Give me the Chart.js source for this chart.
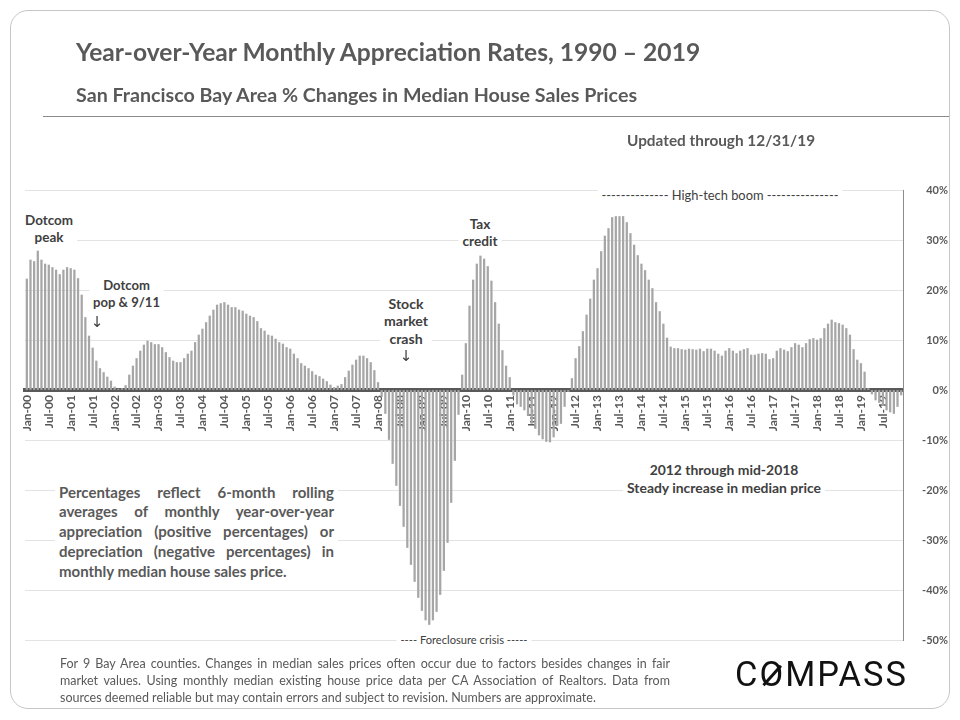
<!DOCTYPE html>
<html>
<head>
<meta charset="utf-8">
<script src="https://cdn.jsdelivr.net/npm/chart.js"></script>
<style>
html, body { margin: 0; padding: 0; background: #fff; }
#page { position: relative; width: 960px; height: 720px; overflow: hidden; font-family: Lato, "Open Sans", sans-serif; color: #595959; }
#frame { position: absolute; left: 10px; top: 10px; width: 938px; height: 697px; border: 1px solid #c6c6c6; border-radius: 18px; }
#chart { position: absolute; left: 0; top: 0; }
#rule { position: absolute; left: 43px; top: 116px; width: 906px; height: 0; border-top: 1.5px solid #8a8a8a; }
.t { position: absolute; white-space: nowrap; line-height: 1.2; }
.c { transform: translate(-50%, -50%); text-align: center; }
.l { transform: translate(0, -50%); }
.box { background: #fff; padding: 1px 4px; }
.b { font-weight: bold; }
.note { color: #404040; font-weight: bold; font-size: 14px; }
.arrow { font-family: "DejaVu Sans", sans-serif; font-size: 15px; color: #404040; }
.just div { text-align: justify; text-align-last: justify; }
.just div.last { text-align-last: left; }
#logo { font-family: Roboto, sans-serif; color: #111; font-size: 34px; letter-spacing: 2px; }
#logo .o { position: relative; display: inline-block; }
#logo .o::after { content: ""; position: absolute; left: 50%; top: 50%; width: 2.5px; height: 26px; background: #111; transform: translate(-50%, -50%) rotate(42deg); }
</style>
</head>
<body>
<div id="page">
  <canvas id="chart" width="960" height="720"></canvas>
  <div id="frame"></div>

  <div class="t l b" data-w="624" style="left:76px; top:52px; font-size:24px;"><span>Year-over-Year Monthly Appreciation Rates, 1990 – 2019</span></div>
  <div class="t l b" data-w="561" style="left:76px; top:95px; font-size:18px;"><span>San Francisco Bay Area % Changes in Median House Sales Prices</span></div>
  <div id="rule"></div>
  <div class="t l b" data-w="188" style="left:627px; top:140px; font-size:14px;"><span>Updated through 12/31/19</span></div>

  <div class="t c note box" data-w="48" style="left:49px; top:228.5px; line-height:17px;"><span>Dotcom<br>peak</span></div>
  <div class="t c note box" data-w="67" style="left:126.5px; top:293.5px; line-height:17px;"><span>Dotcom<br>pop &amp; 9/11</span></div>
  <div class="t c arrow" style="left:97px; top:322px;">↓</div>
  <div class="t c note box" data-w="44" style="left:406px; top:320.5px; line-height:17.5px;"><span>Stock<br>market<br>crash</span></div>
  <div class="t c arrow" style="left:406px; top:356px;">↓</div>
  <div class="t c note box" data-w="35" style="left:480px; top:232.5px; line-height:17px;"><span>Tax<br>credit</span></div>
  <div class="t c box" data-w="237" style="left:720px; top:196px; font-size:13px; color:#404040;"><span>-------------- High-tech boom ---------------</span></div>
  <div class="t c note box" data-w="194" style="left:724px; top:479px; line-height:18px; font-weight:bold; color:#404040;"><span>2012 through mid-2018<br>Steady increase in median price</span></div>
  <div class="t c box" data-w="127" style="left:464px; top:640px; font-size:13px; color:#404040;"><span>---- Foreclosure crisis -----</span></div>

  <div class="t l box just b" style="left:55px; top:531.5px; width:275px; font-size:15px; line-height:19.8px; white-space:normal;">
    <div>Percentages reflect 6-month rolling</div>
    <div>averages of monthly year-over-year</div>
    <div>appreciation (positive percentages) or</div>
    <div>depreciation (negative percentages) in</div>
    <div class="last">monthly median house sales price.</div>
  </div>

  <div class="t l just" style="left:60px; top:680px; width:610px; font-size:12.5px; line-height:17px; white-space:normal;">
    <div>For 9 Bay Area counties. Changes in median sales prices often occur due to factors besides changes in fair</div>
    <div>market values. Using monthly median existing house price data per CA Association of Realtors. Data from</div>
    <div class="last">sources deemed reliable but may contain errors and subject to revision. Numbers are approximate.</div>
  </div>

  <div id="logo" class="t l" data-w="173" style="left:735px; top:675px;"><span>C<span class="o">O</span>MPASS</span></div>
</div>

<script>
// Monthly year-over-year appreciation (%), 6-month rolling, Jan 2000 - Dec 2019
const appreciation = [
    22.2, 26.0, 25.7, 27.8, 26.0, 25.2, 25.0, 24.5, 24.0, 23.1, 24.0, 24.5,          // 2000
    24.3, 24.0, 22.3, 19.0, 14.5, 10.8, 8.4, 5.8, 4.3, 3.5, 2.6, 1.8,                // 2001
    0.6, 0.2, 0.3, 0.9, 3.0, 4.8, 6.3, 7.8, 9.0, 9.8, 9.5, 9.1,                      // 2002
    9.1, 8.5, 7.5, 6.5, 5.8, 5.5, 5.5, 6.3, 7.2, 7.8, 9.5, 11.0,                     // 2003
    12.2, 13.5, 14.8, 16.0, 17.0, 17.3, 17.5, 17.0, 16.5, 16.5, 16.0, 15.8,          // 2004
    15.2, 14.8, 14.5, 13.7, 12.3, 11.8, 11.0, 10.8, 10.2, 9.5, 9.2, 8.5,             // 2005
    8.2, 7.2, 6.3, 5.3, 4.8, 4.3, 3.7, 3.0, 2.7, 2.2, 1.7, 1.0,                      // 2006
    0.5, 0.8, 1.1, 2.5, 3.8, 5.0, 6.0, 6.8, 6.8, 6.3, 5.5, 3.9,                      // 2007
    1.5, -1.3, -4.7, -9.9, -14.7, -19.1, -23.1, -27.3, -31.5, -34.9, -38.3, -41.5,   // 2008
    -44.1, -46.0, -46.9, -46.0, -44.3, -40.9, -36.1, -30.5, -22.5, -14.1, -4.9, 3.0, // 2009
    9.3, 16.8, 22.0, 25.2, 26.8, 26.2, 24.7, 21.8, 17.5, 13.2, 7.9, 4.8,             // 2010
    2.5, -1.0, -2.8, -3.3, -4.0, -5.1, -6.7, -7.7, -9.0, -9.8, -10.3, -10.4,         // 2011
    -9.4, -7.1, -6.7, -3.3, -0.3, 2.3, 6.3, 8.7, 11.7, 15.0, 18.2, 22.0,             // 2012
    24.3, 27.7, 30.8, 32.3, 34.5, 34.7, 34.7, 34.7, 33.5, 31.3, 29.0, 26.9,          // 2013
    25.2, 23.9, 22.0, 20.3, 17.5, 15.7, 13.2, 10.4, 8.6, 8.3, 8.3, 8.1,              // 2014
    8.0, 8.2, 8.1, 8.0, 8.2, 7.7, 8.2, 8.2, 7.8, 7.2, 6.8, 7.8,                      // 2015
    8.3, 7.8, 7.3, 7.8, 8.1, 8.3, 7.0, 7.0, 7.2, 7.3, 7.2, 6.1,                      // 2016
    6.3, 7.8, 8.3, 8.0, 7.7, 8.5, 9.3, 9.0, 8.5, 9.3, 10.1, 10.3,                    // 2017
    10.0, 10.3, 12.3, 13.2, 14.0, 13.5, 13.3, 13.0, 12.3, 11.0, 8.1, 6.0,            // 2018
    5.3, 3.6, 0.3, -0.8, -2.0, -2.5, -3.1, -4.0, -4.4, -4.7, -3.3, -1.0              // 2019
];

const years = ['00', '01', '02', '03', '04', '05', '06', '07', '08', '09',
               '10', '11', '12', '13', '14', '15', '16', '17', '18', '19'];
const monthNames = ['Jan', 'Feb', 'Mar', 'Apr', 'May', 'Jun', 'Jul', 'Aug', 'Sep', 'Oct', 'Nov', 'Dec'];
const yTicks = [40, 30, 20, 10, 0, -10, -20, -30, -40, -50];

const monthLabels = [];
years.forEach(function(y) {
    monthNames.forEach(function(m) {
        monthLabels.push(m + '-' + y);
    });
});

// scale single-line / block texts so they span the same width as the original
function fitTexts() {
    document.querySelectorAll('[data-w]').forEach(function(el) {
        const span = el.firstElementChild;
        const w = span.getBoundingClientRect().width;
        const fs = parseFloat(getComputedStyle(el).fontSize);
        if (w > 0) {
            el.style.fontSize = (fs * parseFloat(el.dataset.w) / w) + 'px';
        }
    });
}

const tickFont = { family: 'Lato', weight: 'bold', size: 11 };

function drawChart() {
    const ctx = document.getElementById('chart');
    new Chart(ctx, {
        type: 'bar',
        data: {
            labels: monthLabels,
            datasets: [{
                data: appreciation,
                backgroundColor: '#a6a6a6',
                barThickness: 1.6
            }]
        },
        options: {
            responsive: false,
            animation: false,
            layout: {
                padding: { left: 25, right: 12, top: 190, bottom: 80 }
            },
            plugins: {
                legend: { display: false },
                tooltip: { enabled: false }
            },
            scales: {
                x: {
                    position: { y: 0 },
                    z: 1,
                    grid: { display: false, drawTicks: false },
                    border: { color: '#595959', width: 4 },
                    ticks: {
                        autoSkip: false,
                        maxRotation: 90,
                        minRotation: 90,
                        padding: 5,
                        color: '#595959',
                        font: { family: 'Lato', weight: 'bold', size: 12 },
                        callback: function(value, index) {
                            return index % 6 === 0 ? monthLabels[index] : '';
                        }
                    }
                },
                y: {
                    position: 'right',
                    min: yTicks[yTicks.length - 1],
                    max: yTicks[0],
                    afterFit: function(scale) { scale.width = 45; },
                    afterBuildTicks: function(scale) {
                        scale.ticks = yTicks.map(function(v) { return { value: v }; });
                    },
                    grid: { color: '#e3e3e3', drawTicks: false },
                    border: { color: '#8c8c8c', width: 1 },
                    ticks: {
                        padding: 9,
                        crossAlign: 'far',
                        color: '#595959',
                        font: tickFont,
                        callback: function(value) { return value + '%'; }
                    }
                }
            }
        }
    });
}

fitTexts();
drawChart();
if (document.fonts && document.fonts.ready) {
    document.fonts.ready.then(fitTexts);
}
</script>
</body>
</html>
